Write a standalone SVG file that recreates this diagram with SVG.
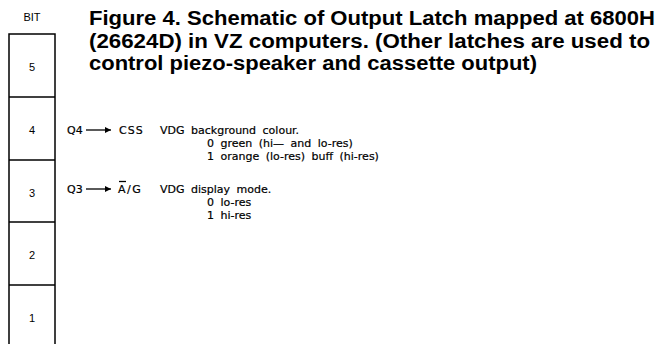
<svg xmlns="http://www.w3.org/2000/svg" width="657" height="344" viewBox="0 0 657 344">
<style>
.title{font-family:"Liberation Sans",Arial,sans-serif;font-weight:bold;font-size:20px;fill:#000}
.num{font-family:"Liberation Sans",Arial,sans-serif;font-size:11px;fill:#000;text-anchor:middle}
.body{font-family:"DejaVu Sans",sans-serif;font-size:11px;fill:#000;stroke:#000;stroke-width:0.2;word-spacing:3px}
.box{fill:none;stroke:#000;stroke-width:1.5}
.conn{stroke:#000;stroke-width:1.3;fill:none}
</style>
<defs>
<marker id="ah" viewBox="0 0 10 10" refX="10" refY="5" markerWidth="9" markerHeight="6" markerUnits="userSpaceOnUse" orient="auto">
<path d="M0,0 L10,5 L0,10 z" fill="#000"/>
</marker>
</defs>
<g id="title">
<text class="title" x="89" y="25" textLength="566" lengthAdjust="spacingAndGlyphs">Figure 4. Schematic of Output Latch mapped at 6800H</text>
<text class="title" x="89" y="48" textLength="561" lengthAdjust="spacingAndGlyphs">(26624D) in VZ computers. (Other latches are used to</text>
<text class="title" x="89" y="70" textLength="448" lengthAdjust="spacingAndGlyphs">control piezo-speaker and cassette output)</text>
</g>
<g id="latch">
<text class="num" x="32" y="21" font-size="10">BIT</text>
<rect class="box" x="9" y="34" width="46" height="320"/>
<line class="box" x1="9" y1="97" x2="55" y2="97"/>
<line class="box" x1="9" y1="160" x2="55" y2="160"/>
<line class="box" x1="9" y1="222" x2="55" y2="222"/>
<line class="box" x1="9" y1="285" x2="55" y2="285"/>
<g id="bit5"><text class="num" x="32" y="71">5</text></g>
<g id="bit4"><text class="num" x="32" y="134">4</text></g>
<g id="bit3"><text class="num" x="32" y="197">3</text></g>
<g id="bit2"><text class="num" x="32" y="259">2</text></g>
<g id="bit1"><text class="num" x="32" y="322">1</text></g>
</g>
<g id="connectors">
<line class="conn" x1="86" y1="130" x2="111" y2="130" marker-end="url(#ah)"/>
<line class="conn" x1="86" y1="189" x2="111" y2="189" marker-end="url(#ah)"/>
<line class="conn" x1="119" y1="181.5" x2="126" y2="181.5"/>
</g>
<g id="q4">
<text class="body" x="67" y="134">Q4</text>
<text class="body" x="119" y="134" letter-spacing="1">CSS</text>
<text class="body" x="160" y="134">VDG background colour.</text>
<text class="body" x="207" y="147">0 green (hi— and lo-res)</text>
<text class="body" x="207" y="160">1 orange (lo-res) buff (hi-res)</text>
</g>
<g id="q3">
<text class="body" x="67" y="193">Q3</text>
<text class="body" x="118" y="193" letter-spacing="1.5">A/G</text>
<text class="body" x="160" y="193">VDG display mode.</text>
<text class="body" x="207" y="206">0 lo-res</text>
<text class="body" x="207" y="219">1 hi-res</text>
</g>
</svg>
